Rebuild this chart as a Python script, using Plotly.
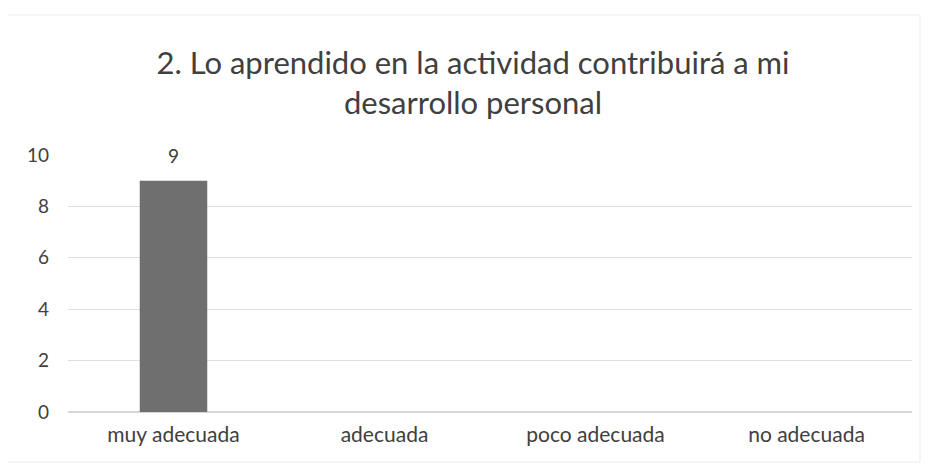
import plotly.graph_objects as go

categories = ["muy adecuada", "adecuada", "poco adecuada", "no adecuada"]
values = [9, 0, 0, 0]
y_ticks = [0, 2, 4, 6, 8, 10]
title_text = "2. Lo aprendido en la actividad contribuirá a mi<br>desarrollo personal"

FONT = "Lato"

fig = go.Figure(go.Bar(
    x=categories, y=values,
    marker=dict(color="#6f6f6f", line=dict(width=0)),
    width=0.32, cliponaxis=False,
))

annotations = [
    dict(x=c, y=v, xref="x", yref="y", text=str(v), showarrow=False,
         yanchor="bottom", yshift=12, font=dict(size=19, color="#404040", family=FONT))
    for c, v in zip(categories, values) if v
]

fig.update_layout(
    width=930, height=470,
    margin=dict(l=60, r=26, t=147, b=66),
    paper_bgcolor="white", plot_bgcolor="white",
    title=dict(text=title_text, x=0.5, xanchor="center", y=0.86, yanchor="top",
               font=dict(size=31, color="#404040", family=FONT)),
    showlegend=False,
    font=dict(family=FONT, color="#595959", size=18),
    xaxis=dict(showgrid=False, showline=False, ticks="", ticklabelstandoff=8,
               tickfont=dict(size=21, color="#404040")),
    yaxis=dict(range=[0, 10], tickvals=y_ticks, showgrid=True, gridcolor="#e0e0e0",
               gridwidth=1, zeroline=True, zerolinecolor="#d6d6d6", ticks="",
               ticklabelstandoff=18, tickfont=dict(size=19, color="#404040")),
    annotations=annotations,
    shapes=[dict(type="rect", xref="paper", yref="paper", x0=-0.0746, x1=1.0095, y0=-0.195, y1=1.545,
                 line=dict(color="#ececec", width=1))],
)

fig.write_html("out.html")
